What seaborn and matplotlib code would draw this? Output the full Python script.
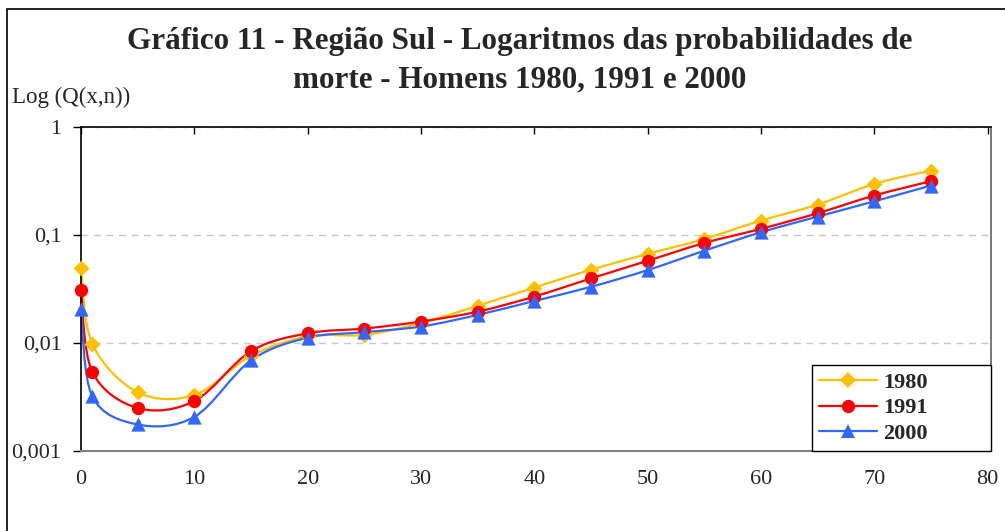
import numpy as np
import matplotlib.pyplot as plt
import seaborn as sns
from matplotlib.path import Path
from matplotlib.patches import PathPatch, Rectangle
from matplotlib.lines import Line2D


AGES = [0, 1, 5, 10, 15, 20, 25, 30, 35, 40, 45, 50, 55, 60, 65, 70, 75]

Q_1980 = [0.050, 0.0098, 0.0035, 0.0033, 0.0076, 0.0115, 0.0119, 0.0153, 0.0221,
          0.0326, 0.0477, 0.0667, 0.092, 0.136, 0.191, 0.297, 0.395]
Q_1991 = [0.031, 0.0054, 0.0025, 0.0029, 0.0084, 0.0123, 0.0136, 0.0158, 0.0195,
          0.0269, 0.0396, 0.0577, 0.0843, 0.114, 0.159, 0.232, 0.315]
Q_2000 = [0.0206, 0.0032, 0.00176, 0.00207, 0.0069, 0.0112, 0.0126, 0.0142, 0.0182,
          0.0245, 0.0331, 0.0473, 0.0715, 0.106, 0.148, 0.205, 0.287]

SERIES = {"1980": Q_1980, "1991": Q_1991, "2000": Q_2000}
COLORS = {"1980": "#FFC000", "1991": "#FF0000", "2000": "#3366FF"}
MARKERS = {"1980": "D", "1991": "o", "2000": "^"}
SIZES = {"1980": 65, "1991": 92, "2000": 105}

X_TICKS = [0, 10, 20, 30, 40, 50, 60, 70, 80]
Y_TICKS = [0.001, 0.01, 0.1, 1]
Y_LABELS = ["0,001", "0,01", "0,1", "1"]


def smooth_path(x, y):
    # Excel-style smoothed line: Catmull-Rom bezier in (x, log y) space
    x = np.asarray(x, dtype=float)
    ly = np.log10(np.asarray(y, dtype=float))
    n = len(x)
    verts = [(x[0], 10 ** ly[0])]
    codes = [Path.MOVETO]
    for i in range(n - 1):
        p0 = max(i - 1, 0)
        p3 = min(i + 2, n - 1)
        c1 = (x[i] + (x[i + 1] - x[p0]) / 6, ly[i] + (ly[i + 1] - ly[p0]) / 6)
        c2 = (x[i + 1] - (x[p3] - x[i]) / 6, ly[i + 1] - (ly[p3] - ly[i]) / 6)
        verts += [(c1[0], 10 ** c1[1]), (c2[0], 10 ** c2[1]), (x[i + 1], 10 ** ly[i + 1])]
        codes += [Path.CURVE4] * 3
    return Path(verts, codes)


sns.set_style("white")
plt.rcParams["font.family"] = ["Liberation Serif", "DejaVu Serif"]

fig = plt.figure(figsize=(10.05, 5.31), dpi=100)
ax = fig.add_axes([81 / 1005, 1 - 451 / 531, 910 / 1005, 324 / 531])

ax.set_yscale("log")
for name, values in SERIES.items():
    patch = PathPatch(smooth_path(AGES, values), facecolor="none",
                      edgecolor=COLORS[name], lw=1.6, zorder=2, clip_on=False)
    ax.add_patch(patch)
    sns.scatterplot(x=AGES, y=values, marker=MARKERS[name], s=SIZES[name],
                    color=COLORS[name], linewidth=0, ax=ax, zorder=3,
                    clip_on=False)

ax.set_xlim(0, 80.3)
ax.set_ylim(0.001, 1)
ax.set_xticks(X_TICKS)
ax.set_xticklabels([str(t) for t in X_TICKS])
ax.set_yticks(Y_TICKS)
ax.set_yticklabels(Y_LABELS)
ax.minorticks_off()
ax.tick_params(axis="y", which="major", left=True, direction="out", length=6,
               width=1, pad=8, labelsize=16, color="black")
ax.tick_params(axis="x", which="major", bottom=False, top=True, direction="in",
               length=5, width=1, pad=14, labelsize=16, color="black")
ax.set_xlabel("")
ax.set_ylabel("")

ax.yaxis.grid(True, which="major", linestyle=(0, (5, 4)), color="#c8c8c8", lw=1)
ax.xaxis.grid(False)

for side in ["left", "top"]:
    ax.spines[side].set_color("black")
    ax.spines[side].set_linewidth(1.2)
ax.spines["bottom"].set_color("#808080")
ax.spines["bottom"].set_linewidth(1.5)
ax.spines["right"].set_color("#606060")
ax.spines["right"].set_linewidth(1.2)

handles = [
    Line2D([], [], color=COLORS[n], marker=MARKERS[n], lw=1.6,
           markersize=np.sqrt(SIZES[n]), markeredgewidth=0)
    for n in SERIES
]
leg = ax.legend(handles, list(SERIES.keys()), loc="lower left",
                bbox_to_anchor=(731 / 910, 0, 179 / 910, 86 / 324),
                mode="expand", borderaxespad=0, frameon=True,
                fancybox=False, framealpha=1, edgecolor="black",
                prop={"weight": "bold", "size": 16}, handlelength=2.6,
                handletextpad=0.3, labelspacing=0.22, borderpad=0.32)
leg.get_frame().set_linewidth(1)

fig.text(520 / 1005, 1 - 42 / 531,
         "Gráfico 11 - Região Sul - Logaritmos das probabilidades de",
         ha="center", va="center", fontsize=22.4, fontweight="bold")
fig.text(520 / 1005, 1 - 80 / 531,
         "morte - Homens 1980, 1991 e 2000",
         ha="center", va="center", fontsize=22.4, fontweight="bold")
fig.text(12 / 1005, 1 - 103 / 531, "Log (Q(x,n))", ha="left",
         va="baseline", fontsize=16.5)

fig.add_artist(Rectangle((7 / 1005, -0.1), 1.2, 1.1 - 9 / 531,
                         transform=fig.transFigure, fill=False,
                         edgecolor="black", lw=1.2))

fig.savefig("out.png", dpi=100)
